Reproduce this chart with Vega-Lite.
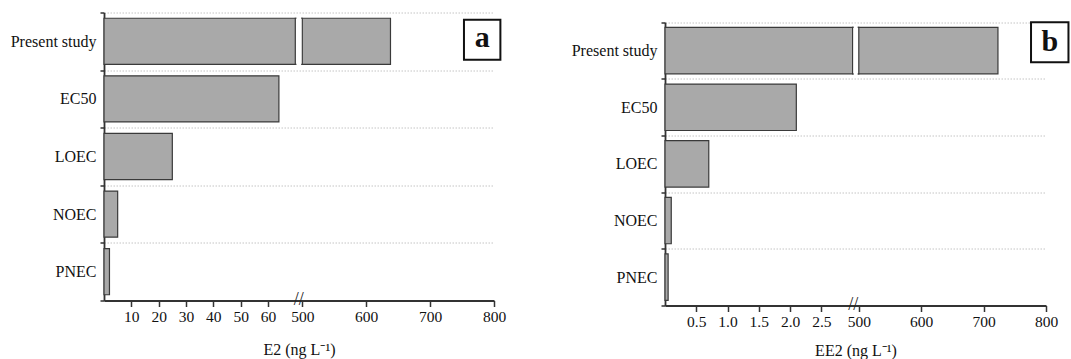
{
  "$schema": "https://vega.github.io/schema/vega-lite/v6.json",
  "background": "white",
  "padding": {"left": 10, "top": 4.5, "right": 0, "bottom": 0},
  "config": {
    "font": "Liberation Serif",
    "view": {"stroke": null},
    "axis": {"labelFont": "Liberation Serif", "titleFont": "Liberation Serif", "labelColor": "#111", "titleColor": "#111", "domainColor": "#333", "tickColor": "#333", "titleFontWeight": "normal"},
    "concat": {"spacing": 65}
  },
  "hconcat": [
    {
      "width": 390,
      "height": 288,
      "data": {"values": [
        {"metric": "Present study", "value": 638},
        {"metric": "EC50", "value": 64},
        {"metric": "LOEC", "value": 25},
        {"metric": "NOEC", "value": 5},
        {"metric": "PNEC", "value": 2}
      ]},
      "layer": [
        {
          "mark": {"type": "bar", "height": {"band": 0.8}, "fill": "#a9a9a9", "stroke": "#3a3a3a", "strokeWidth": 1.2},
          "encoding": {
            "y": {"field": "metric", "type": "nominal",
              "scale": {"domain": ["Present study", "EC50", "LOEC", "NOEC", "PNEC"], "paddingInner": 0, "paddingOuter": 0},
              "axis": {"title": null, "tickBand": "extent", "grid": true, "gridDash": [1.5, 1.5], "gridColor": "#c4c4c4", "domainWidth": 1.8, "tickSize": 4, "tickWidth": 1.5, "labelFontSize": 16, "labelPadding": 4}},
            "x": {"field": "value", "type": "quantitative",
              "scale": {"domain": [0, 70, 500, 800], "range": [0, 191.3, 198.3, 390], "nice": false, "zero": false},
              "axis": {"title": "E2 (ng L⁻¹)", "values": [10, 20, 30, 40, 50, 60, 500, 600, 700, 800], "grid": false, "tickSize": 6, "tickWidth": 1.5, "domainWidth": 1.8, "labelFontSize": 15.5, "titleFontSize": 16, "labelPadding": 3, "titlePadding": 16, "labelFlush": false}}
          }
        },
        {
          "data": {"values": [{}]},
          "mark": {"type": "bar", "height": {"band": 0.8}, "fill": "white", "stroke": "#3a3a3a", "strokeWidth": 1.2},
          "encoding": {"x": {"datum": 70, "type": "quantitative"}, "x2": {"datum": 500}, "y": {"datum": "Present study", "type": "nominal"}}
        },
        {
          "data": {"values": [{}]},
          "mark": {"type": "bar", "height": {"band": 0.95}, "fill": "white", "strokeWidth": 0},
          "encoding": {"x": {"datum": 140, "type": "quantitative"}, "x2": {"datum": 430}, "y": {"datum": "Present study", "type": "nominal"}}
        },
        {
          "data": {"values": [{}]},
          "mark": {"type": "text", "text": "//", "fontSize": 18, "align": "center", "baseline": "middle", "color": "#222", "dy": -1},
          "encoding": {"x": {"datum": 285, "type": "quantitative"}, "y": {"datum": "PNEC", "type": "nominal", "bandPosition": 1}}
        },
        {
          "data": {"values": [{}]},
          "mark": {"type": "bar", "height": 40, "fill": "white", "stroke": "#111", "strokeWidth": 2, "yOffset": -1.5},
          "encoding": {"x": {"datum": 753, "type": "quantitative"}, "x2": {"datum": 810}, "y": {"datum": "Present study", "type": "nominal"}}
        },
        {
          "data": {"values": [{}]},
          "mark": {"type": "text", "text": "a", "fontSize": 30, "fontWeight": "bold", "align": "center", "baseline": "middle", "color": "#111", "dy": -3},
          "encoding": {"x": {"datum": 781.5, "type": "quantitative"}, "y": {"datum": "Present study", "type": "nominal"}}
        }
      ]
    },
    {
      "width": 381,
      "height": 293,
      "data": {"values": [
        {"metric": "Present study", "value": 723},
        {"metric": "EC50", "value": 2.1},
        {"metric": "LOEC", "value": 0.7},
        {"metric": "NOEC", "value": 0.1},
        {"metric": "PNEC", "value": 0.05}
      ]},
      "layer": [
        {
          "mark": {"type": "bar", "height": {"band": 0.82}, "fill": "#a9a9a9", "stroke": "#3a3a3a", "strokeWidth": 1.2},
          "encoding": {
            "y": {"field": "metric", "type": "nominal",
              "scale": {"domain": ["Present study", "EC50", "LOEC", "NOEC", "PNEC"], "range": [9.8, 293], "paddingInner": 0, "paddingOuter": 0},
              "axis": {"title": null, "tickBand": "extent", "grid": true, "gridDash": [1.5, 1.5], "gridColor": "#c4c4c4", "domainWidth": 1.8, "tickSize": 4, "tickWidth": 1.5, "labelFontSize": 16, "labelPadding": 4}},
            "x": {"field": "value", "type": "quantitative",
              "scale": {"domain": [0, 3, 500, 800], "range": [0, 187.6, 193.8, 381], "nice": false, "zero": false},
              "axis": {"title": "EE2 (ng L⁻¹)", "values": [0.5, 1, 1.5, 2, 2.5, 500, 600, 700, 800], "labelExpr": "datum.value < 100 ? format(datum.value, '.1f') : format(datum.value, 'd')", "grid": false, "tickSize": 6, "tickWidth": 1.5, "domainWidth": 1.8, "labelFontSize": 15.5, "titleFontSize": 16, "labelPadding": 3, "titlePadding": 12, "labelFlush": false}}
          }
        },
        {
          "data": {"values": [{}]},
          "mark": {"type": "bar", "height": {"band": 0.82}, "fill": "white", "stroke": "#3a3a3a", "strokeWidth": 1.2},
          "encoding": {"x": {"datum": 3, "type": "quantitative"}, "x2": {"datum": 500}, "y": {"datum": "Present study", "type": "nominal"}}
        },
        {
          "data": {"values": [{}]},
          "mark": {"type": "bar", "height": {"band": 0.95}, "fill": "white", "strokeWidth": 0},
          "encoding": {"x": {"datum": 90, "type": "quantitative"}, "x2": {"datum": 410}, "y": {"datum": "Present study", "type": "nominal"}}
        },
        {
          "data": {"values": [{}]},
          "mark": {"type": "text", "text": "//", "fontSize": 18, "align": "center", "baseline": "middle", "color": "#222", "dy": -1},
          "encoding": {"x": {"datum": 60, "type": "quantitative"}, "y": {"datum": "PNEC", "type": "nominal", "bandPosition": 1}}
        },
        {
          "data": {"values": [{}]},
          "mark": {"type": "bar", "height": 40, "fill": "white", "stroke": "#111", "strokeWidth": 2, "yOffset": -8.3},
          "encoding": {"x": {"datum": 776, "type": "quantitative"}, "x2": {"datum": 836}, "y": {"datum": "Present study", "type": "nominal"}}
        },
        {
          "data": {"values": [{}]},
          "mark": {"type": "text", "text": "b", "fontSize": 30, "fontWeight": "bold", "align": "center", "baseline": "middle", "color": "#111", "dy": -9},
          "encoding": {"x": {"datum": 806, "type": "quantitative"}, "y": {"datum": "Present study", "type": "nominal"}}
        }
      ]
    }
  ]
}
